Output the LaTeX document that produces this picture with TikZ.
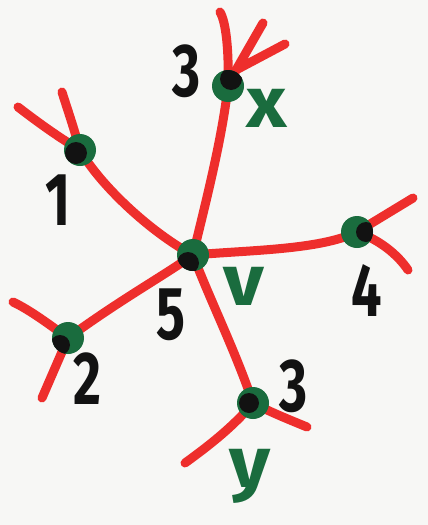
\documentclass[tikz,border=0pt]{standalone}
\usepackage{fontspec}
\setmainfont{Fira Sans}
\usetikzlibrary{calc,backgrounds}
\definecolor{mred}{RGB}{238,46,44}
\definecolor{mgreen}{RGB}{26,108,62}
\definecolor{mblack}{RGB}{18,18,18}
\definecolor{paper}{RGB}{247,247,245}
\begin{document}
\begin{tikzpicture}[x=1pt,y=-1pt,
  edge/.style={draw=mred,line width=9pt,line cap=round,line join=round},
  dot/.style 2 args={circle,minimum size=32pt,inner sep=0pt,fill=mgreen,
    path picture={\fill[mblack] ($(path picture bounding box.center)+(#1)$) circle (#2);}},
  lbl/.style={font=\fontsize{75}{75}\selectfont\bfseries,text=mblack,inner sep=0pt,xscale=0.72},
  glbl/.style={font=\fontsize{72}{72}\selectfont\bfseries,text=mgreen,inner sep=0pt,xscale=1.1}]
\useasboundingbox (0,0) rectangle (428,525);
% dots
\node[dot={-5,8}{11pt}] (v) at (193,255) {};
\node[dot={3,-7}{11pt}] (t) at (228,86) {};
\node[dot={-4,3}{11pt}] (a) at (80,150) {};
\node[dot={9,0}{10pt}] (r) at (357,232) {};
\node[dot={-8,7}{10pt}] (b) at (68,338) {};
\node[dot={-4,0}{10pt}] (d) at (253,403) {};
% free ends
\coordinate (t1) at (220,12);
\coordinate (tv) at (236,70);
\coordinate (t2) at (263,23);
\coordinate (t3) at (285,44);
\coordinate (a1) at (18,107);
\coordinate (a2) at (62,92);
\coordinate (r1) at (413,198);
\coordinate (r2) at (408,270);
\coordinate (b1) at (13,302);
\coordinate (b2) at (42,398);
\coordinate (d1) at (185,463);
\coordinate (d2) at (307,427);
% labels
\node[lbl] (l3t) at (187,71) {3};
\node[lbl] (l1) at (58,200) {1};
\node[lbl] (l4) at (367,291) {4};
\node[lbl] (l2) at (87,379) {2};
\node[lbl] (l5) at (171,315) {5};
\node[lbl] (l3b) at (294,386) {3};
\node[glbl] (lx) at (267,108) {x};
\node[glbl] (lv) at (244,286) {v};
\node[glbl] (ly) at (250,476) {y};
\begin{scope}[on background layer]
\fill[paper] (0,0) rectangle (428,525);
% edges from centre
\draw[edge] (v.center) .. controls (205,205) and (222,140) .. (t.center);
\draw[edge] (v.center) .. controls (150,232) and (100,185) .. (a.center);
\draw[edge] (v.center) .. controls (250,250) and (320,250) .. (r.center);
\draw[edge] (v.center) .. controls (160,278) and (120,300) .. (b.center);
\draw[edge] (v.center) .. controls (210,300) and (235,350) .. (d.center);
% leaf branches
\draw[edge] (t.center) .. controls (229,50) and (226,22) .. (t1);
\draw[edge] (t.center) -- (tv);
\draw[edge] (t2) -- (tv) -- (t3);
\draw[edge] (a.center) .. controls (55,135) and (35,120) .. (a1);
\draw[edge] (a.center) .. controls (73,125) and (66,105) .. (a2);
\draw[edge] (r.center) -- (r1);
\draw[edge] (r.center) .. controls (380,240) and (398,255) .. (r2);
\draw[edge] (b.center) .. controls (50,325) and (30,310) .. (b1);
\draw[edge] (b.center) -- (b2);
\draw[edge] (d.center) .. controls (235,425) and (210,445) .. (d1);
\draw[edge] (d.center) .. controls (270,412) and (290,420) .. (d2);
\end{scope}
\end{tikzpicture}
\end{document}
